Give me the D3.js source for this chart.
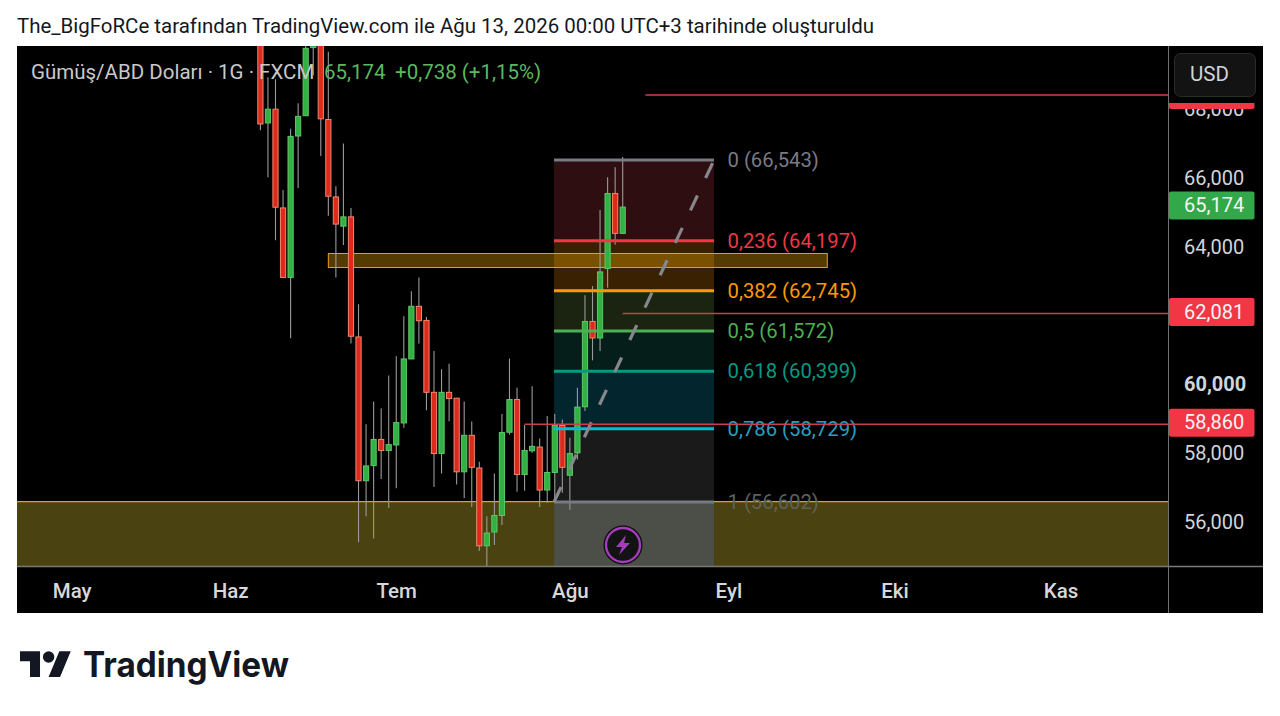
<!DOCTYPE html>
<html>
<head>
<meta charset="utf-8">
<script src="https://cdnjs.cloudflare.com/ajax/libs/d3/7.8.5/d3.min.js"></script>
<style>
  html,body{margin:0;padding:0;background:#fff;}
  svg{display:block;font-family:Roboto,sans-serif;}
</style>
</head>
<body>
<div id="chart"></div>
<script>
// daily candles
var opens = [70.32,67.62,68.02,65.15,63.13,67.24,67.83,69.81,70.17,67.72,65.47,64.62,64.89,61.40,57.22,57.66,58.42,58.10,58.26,58.90,60.76,62.29,61.88,59.79,58.01,59.79,59.62,57.48,58.54,57.59,55.33,55.73,56.21,58.63,59.58,57.40,58.09,58.20,56.95,57.46,58.83,57.38,58.03,59.37,61.85,61.37,63.39,65.57,64.41];
var closes = [67.59,68.02,65.17,63.13,67.23,67.81,69.79,70.32,67.74,65.49,64.68,64.89,61.42,57.22,57.65,58.42,58.10,58.27,58.91,60.76,62.29,61.87,59.79,58.01,59.79,59.61,57.48,58.54,57.61,55.33,55.70,56.21,58.62,59.58,57.40,58.10,58.22,56.95,57.46,58.83,57.61,58.01,59.36,61.85,61.37,63.29,65.57,64.41,65.174];
var highs = [70.61,68.95,68.89,65.67,67.45,68.19,70.17,70.83,70.46,69.69,65.78,67.02,65.15,62.35,58.86,59.52,59.32,60.28,60.84,62.00,62.73,63.13,61.98,60.99,60.46,60.62,59.62,59.52,58.94,57.77,56.19,57.43,59.16,60.77,59.92,58.84,59.97,58.45,59.10,59.16,59.00,58.47,59.92,62.61,62.88,65.09,66.04,66.33,66.63];
var lows = [67.41,66.04,64.21,63.13,61.36,65.73,67.83,69.01,66.66,64.92,63.13,64.07,61.21,55.43,56.19,55.54,57.27,56.43,57.00,58.76,60.76,61.21,59.27,57.04,57.43,58.95,57.11,56.71,56.46,55.18,54.66,55.35,55.93,58.56,56.90,56.93,58.03,56.46,56.58,56.61,56.87,56.38,57.84,59.25,60.72,60.99,62.83,64.08,64.41];

// axes, 62,000 is hidden behind its tag in the picture
var priceTicks = [56,58,60,64,66,68];
var monthLabels = ["May","Haz","Tem","Ağu","Eyl","Eki","Kas"];
var monthIndex = [-25,-4,18,41,62,84,106];

// fibonacci tool
var fibRatios = ["0","0,236","0,382","0,5","0,618","0,786","1"];
var fibPrices = [66.543,64.197,62.745,61.572,60.399,58.729,56.602];
var fibColors = ["#787b86","#f23645","#ff9800","#4caf50","#089981","#00bcd4","#787b86"];
var fibTextColors = ["#787b86","#f23645","#ff9800","#4caf50","#089981","#2a9fc0","#5f6258"];
var fibFills = ["#2f0e12","#3a2102","#1a2410","#051e19","#03262e","#1a1a1a"];

// horizontal rays with their price tags
var rayPrices = [68.43,62.081,58.86];
var rayStart = [51,48,35];

var W = 1280, H = 716;
var chartL = 17, chartR = 1263, chartT = 46, chartB = 613;
var plotR = 1168, plotB = 566.5;

var svg = d3.select("#chart").append("svg").attr("width",W).attr("height",H);

var x = d3.scaleLinear().domain([0,48]).range([260.4,622.7]);
var y = d3.scaleLinear().domain([66.543,56.602]).range([160,502]);

function comma(v,f){ return d3.format(f)(v).replace(".",","); }

svg.append("text").attr("x",17).attr("y",32.5).attr("font-size",20.47).attr("fill","#131722")
   .text("The_BigFoRCe tarafından TradingView.com ile Ağu 13, 2026 00:00 UTC+3 tarihinde oluşturuldu");

svg.append("rect").attr("x",chartL).attr("y",chartT).attr("width",chartR-chartL).attr("height",chartB-chartT).attr("fill","#000");

svg.append("clipPath").attr("id","plot").append("rect")
   .attr("x",chartL).attr("y",chartT).attr("width",plotR-chartL).attr("height",plotB-chartT);
var plot = svg.append("g").attr("clip-path","url(#plot)");

// fib bands, last one runs off the bottom of the plot
var fibL = x(38.9), fibR = x(60.1);
plot.selectAll(".band").data(fibFills).enter().append("rect")
    .attr("x",fibL).attr("width",fibR-fibL)
    .attr("y",function(d,i){ return y(fibPrices[i]); })
    .attr("height",function(d,i){ return y(fibPrices[i+1])-y(fibPrices[i]); })
    .attr("fill",function(d){ return d; });
plot.append("rect").attr("x",fibL).attr("width",fibR-fibL).attr("y",y(56.602)).attr("height",plotB-y(56.602)).attr("fill","#4b4f47");

// yellow zones
plot.append("rect").attr("x",chartL-2).attr("width",fibL-chartL+2).attr("y",y(56.615)).attr("height",plotB-y(56.615)).attr("fill","#4a4210");
plot.append("rect").attr("x",fibR).attr("width",plotR-fibR+2).attr("y",y(56.615)).attr("height",plotB-y(56.615)).attr("fill","#4a4210");
plot.append("line").attr("x1",chartL).attr("x2",plotR).attr("y1",y(56.615)).attr("y2",y(56.615)).attr("stroke","#f59a10").attr("stroke-width",1.2);
plot.append("rect").attr("x",x(9)).attr("width",x(75.1)-x(9)).attr("y",y(63.825)).attr("height",y(63.418)-y(63.825))
    .attr("fill","#ffb300").attr("fill-opacity",0.33).attr("stroke","#f59a10").attr("stroke-width",1);

// candles
var candles = d3.range(opens.length);
plot.selectAll(".wick").data(candles).enter().append("line")
    .attr("x1",function(i){ return x(i); }).attr("x2",function(i){ return x(i); })
    .attr("y1",function(i){ return y(highs[i]); }).attr("y2",function(i){ return y(lows[i]); })
    .attr("stroke","#9a9a9a").attr("stroke-width",1.1);
plot.selectAll(".body").data(candles).enter().append("rect")
    .attr("x",function(i){ return x(i)-2.6; }).attr("width",5.2)
    .attr("y",function(i){ return y(Math.max(opens[i],closes[i])); })
    .attr("height",function(i){ return Math.max(1,Math.abs(y(opens[i])-y(closes[i]))); })
    .attr("fill",function(i){ return closes[i]>=opens[i] ? "#33b044" : "#dc2a1c"; })
    .attr("stroke",function(i){ return closes[i]>=opens[i] ? "#5cc866" : "#f0886a"; })
    .attr("stroke-width",1);

// fib levels + diagonal
plot.selectAll(".level").data(fibPrices).enter().append("line")
    .attr("x1",fibL).attr("x2",fibR)
    .attr("y1",function(d){ return y(d); }).attr("y2",function(d){ return y(d); })
    .attr("stroke",function(d,i){ return fibColors[i]; }).attr("stroke-width",3);
plot.append("line").attr("x1",fibL).attr("y1",y(56.602)).attr("x2",fibR).attr("y2",y(66.543))
    .attr("stroke","#85868e").attr("stroke-width",3.2).attr("stroke-dasharray","16.5 19.27");
plot.selectAll(".fibtext").data(fibPrices).enter().append("text")
    .attr("x",727.5).attr("y",function(d){ return y(d)+7; })
    .attr("font-size",20.3).attr("fill",function(d,i){ return fibTextColors[i]; })
    .text(function(d,i){ return fibRatios[i]+" ("+comma(d,".3f")+")"; });

// rays
plot.selectAll(".ray").data(rayPrices).enter().append("line")
    .attr("x1",function(d,i){ return x(rayStart[i]); }).attr("x2",plotR)
    .attr("y1",function(d){ return y(d); }).attr("y2",function(d){ return y(d); })
    .attr("stroke","#c8404e").attr("stroke-width",1.5);

// bolt marker
var bolt = svg.append("g").attr("transform","translate(623,545)");
bolt.append("circle").attr("r",19.5).attr("fill","#0d0d0d");
bolt.append("circle").attr("r",17).attr("fill","#131313").attr("stroke","#a53cbe").attr("stroke-width",2.4);
bolt.append("path").attr("d","M3,-10 L-7,2 L-1,2 L-4,10 L7,-2 L1,-2 Z").attr("fill","#a53cbe");

// frame lines
svg.append("line").attr("x1",plotR+0.5).attr("x2",plotR+0.5).attr("y1",chartT).attr("y2",chartB).attr("stroke","#6f6f6f");
svg.append("line").attr("x1",chartL).attr("x2",chartR).attr("y1",plotB).attr("y2",plotB).attr("stroke","#7a7a7a").attr("stroke-width",1.5);

// price axis
var yAxis = d3.axisRight(y).tickValues(priceTicks).tickSize(0).tickPadding(16)
    .tickFormat(function(d){ return comma(d,".3f"); });
var yG = svg.append("g").attr("transform","translate("+plotR+",-0.6)").call(yAxis);
yG.select(".domain").remove();
yG.selectAll("text").attr("font-family","Roboto").attr("font-size",20).attr("fill","#d1d4dc")
  .attr("font-weight",function(d){ return d===60 ? 700 : 400; });

// month axis
var xAxis = d3.axisBottom(x).tickValues(monthIndex).tickSize(0).tickPadding(17)
    .tickFormat(function(d,i){ return monthLabels[i]; });
var xG = svg.append("g").attr("transform","translate(0,"+plotB+")").call(xAxis);
xG.select(".domain").remove();
xG.selectAll("text").attr("font-family","Roboto").attr("font-size",20.5).attr("font-weight",500).attr("fill","#d8d8d8");

// price tags, the top one only shows below the currency button
var tagPrices = [68.39,65.174,62.081,58.86];
var tagFills = ["#f23645","#33a84a","#f23645","#f23645"];
svg.selectAll(".tag").data(tagPrices).enter().append("rect")
   .attr("x",plotR+1).attr("width",85.5).attr("rx",2)
   .attr("y",function(d){ return y(d)-15.5; }).attr("height",28)
   .attr("fill",function(d,i){ return tagFills[i]; });
svg.selectAll(".tagtext").data(tagPrices.slice(1)).enter().append("text")
   .attr("x",plotR+16).attr("y",function(d){ return y(d)+5; })
   .attr("font-size",20).attr("fill","#f4f4f4")
   .text(function(d){ return comma(d,".3f"); });

// currency button sits over the top tag
svg.append("rect").attr("x",plotR+1).attr("y",chartT).attr("width",chartR-plotR-1).attr("height",57).attr("fill","#000");
svg.append("rect").attr("x",1174.5).attr("y",53.5).attr("width",81).attr("height",43).attr("rx",6).attr("fill","#131313").attr("stroke","#2a2a2a");
svg.append("text").attr("x",1190).attr("y",81).attr("font-size",20.5).attr("fill","#d1d4dc").text("USD");

// legend
svg.append("text").attr("x",31).attr("y",79).attr("font-size",20.5).attr("fill","#c9c9c9").text("Gümüş/ABD Doları · 1G · FXCM");
svg.append("text").attr("x",324).attr("y",79).attr("font-size",20.5).attr("fill","#5cb85f").text("65,174");
svg.append("text").attr("x",395).attr("y",79).attr("font-size",20.5).attr("fill","#5cb85f").text("+0,738 (+1,15%)");

// logo
var logo = svg.append("g").attr("transform","translate(20,645.5) scale(1.43)");
logo.append("path").attr("d","M14 22H7V11H0V4h14v18zM28 22h-8l7.5-18h8L28 22z").attr("fill","#131722");
logo.append("circle").attr("cx",20).attr("cy",8).attr("r",4).attr("fill","#131722");
svg.append("text").attr("x",83).attr("y",677).attr("font-family","Inter").attr("font-weight",700)
   .attr("font-size",35).attr("fill","#131722").attr("textLength",206).attr("lengthAdjust","spacingAndGlyphs").text("TradingView");
</script>
</body>
</html>
